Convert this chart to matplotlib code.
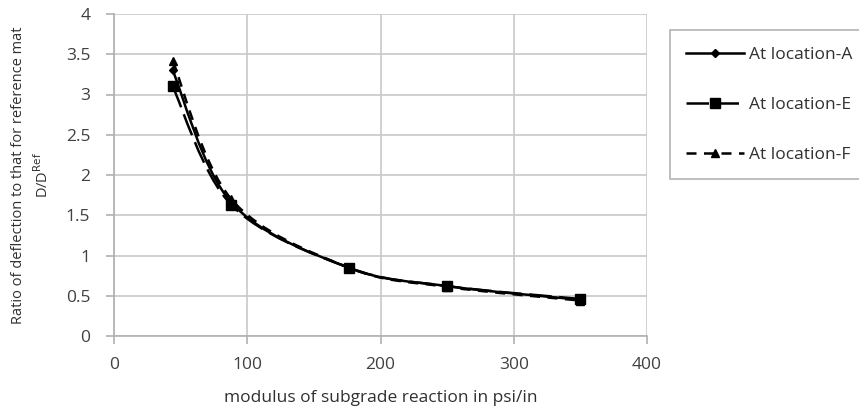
import numpy as np
import matplotlib
matplotlib.use("Agg")
import matplotlib.pyplot as plt
from matplotlib.path import Path
from matplotlib.patches import PathPatch
from matplotlib.lines import Line2D

# data
modulus = [44, 88, 176, 250, 350]
ratio_a = [3.30, 1.66, 0.85, 0.62, 0.45]
ratio_e = [3.10, 1.63, 0.85, 0.62, 0.46]
ratio_f = [3.42, 1.70, 0.85, 0.61, 0.44]
labels = ["At location-A", "At location-E", "At location-F"]

plt.rcParams["font.family"] = ["Open Sans", "DejaVu Sans"]


# smoothed line like a spreadsheet "smoothed line" (Catmull-Rom as bezier)
def smooth_path(x, y):
    pts = np.column_stack([x, y]).astype(float)
    n = len(pts)
    verts = [pts[0]]
    codes = [Path.MOVETO]
    for i in range(n - 1):
        p0 = pts[max(i - 1, 0)]
        p1 = pts[i]
        p2 = pts[i + 1]
        p3 = pts[min(i + 2, n - 1)]
        c1 = p1 + (p2 - p0) / 6.0
        c2 = p2 - (p3 - p1) / 6.0
        verts += [c1, c2, p2]
        codes += [Path.CURVE4] * 3
    return Path(verts, codes)


fig = plt.figure(figsize=(8.59, 4.09), dpi=100)
ax = fig.add_axes([114 / 859, 1 - 336 / 409, 533 / 859, 322 / 409])

styles = [
    dict(ys=ratio_a, ls="-", marker="D", ms=4.5),
    dict(ys=ratio_e, ls=(0, (9, 3)), marker="s", ms=7),
    dict(ys=ratio_f, ls=(0, (4, 3)), marker="^", ms=6),
]

handles = []
for st, lab in zip(styles, labels):
    patch = PathPatch(smooth_path(modulus, st["ys"]), facecolor="none",
                      edgecolor="black", linewidth=1.8, linestyle=st["ls"], zorder=3)
    ax.add_patch(patch)
    ax.plot(modulus, st["ys"], linestyle="none", marker=st["marker"],
            markersize=st["ms"], color="black", zorder=4)
    handles.append(Line2D([], [], color="black", linewidth=1.8, linestyle=st["ls"],
                          marker=st["marker"], markersize=st["ms"]))

ax.set_xlim(0, 400)
ax.set_ylim(0, 4)
ax.set_xticks([0, 100, 200, 300, 400])
ax.set_yticks([0, 0.5, 1, 1.5, 2, 2.5, 3, 3.5, 4])
ax.set_yticklabels(["0", "0.5", "1", "1.5", "2", "2.5", "3", "3.5", "4"])
ax.grid(True, color="#c8c8c8", linewidth=1.2)
ax.set_axisbelow(True)
for s in ["top", "right"]:
    ax.spines[s].set_visible(False)
for s in ["left", "bottom"]:
    ax.spines[s].set_color("#b0b0b0")
    ax.spines[s].set_linewidth(1.2)
ax.tick_params(colors="#b0b0b0", labelcolor="#404040", labelsize=12.5,
               length=6, width=1.2)
ax.tick_params(axis="x", pad=9)
ax.tick_params(axis="y", pad=11)

ax.set_xlabel("modulus of subgrade reaction in psi/in", fontsize=12.5,
              color="#303030", labelpad=12)
ax.set_ylabel("Ratio of deflection to that for reference mat\nD/D$^{\\mathrm{Ref}}$",
              fontsize=10.5, color="#303030", labelpad=10,
              linespacing=1.5)

leg = fig.legend(handles, labels, loc="upper left",
                 bbox_to_anchor=(670 / 859, 1 - 30 / 409), borderaxespad=0,
                 fontsize=12.5, handlelength=3.3, labelspacing=1.95,
                 borderpad=0.95, handletextpad=0.3, frameon=True,
                 fancybox=False)
leg.get_frame().set_edgecolor("#a0a0a0")
leg.get_frame().set_linewidth(1.2)
for t in leg.get_texts():
    t.set_color("#303030")

fig.savefig("out.png", dpi=100)
